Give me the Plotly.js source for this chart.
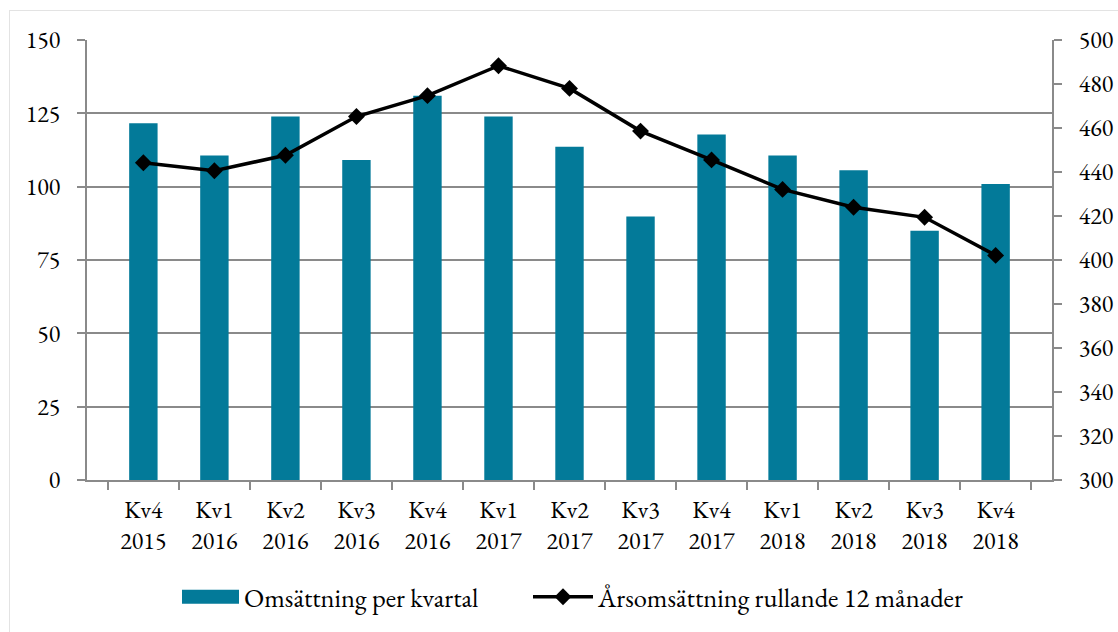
<!DOCTYPE html>
<html>
<head>
<meta charset="utf-8">
<script src="https://cdn.plot.ly/plotly-3.0.1.min.js"></script>
<style>
html,body{margin:0;padding:0;background:#fff;}
#wrap{position:absolute;left:0;top:0;width:1118px;height:632px;overflow:hidden;}
#frame{position:absolute;left:9px;top:10px;width:1200px;height:700px;border:1px solid #e3e3e3;pointer-events:none;}
#chart{position:absolute;left:0;top:0;width:1118px;height:632px;}
</style>
</head>
<body>
<div id="wrap"><div id="chart"></div><div id="frame"></div></div>
<script>
const quarters = ["Kv4<br>2015","Kv1<br>2016","Kv2<br>2016","Kv3<br>2016","Kv4<br>2016","Kv1<br>2017","Kv2<br>2017","Kv3<br>2017","Kv4<br>2017","Kv1<br>2018","Kv2<br>2018","Kv3<br>2018","Kv4<br>2018"];
const quarterlySales = [121.6,110.6,123.9,109.1,131,123.9,113.6,89.8,117.8,110.6,105.6,85,100.9];
const rollingAnnualSales = [444.2,440.6,447.6,465.2,474.7,488.3,478,458.6,445.5,432.1,424,419.4,402.1];
const leftTicks = [0,25,50,75,100,125,150];
const rightTicks = [300,320,340,360,380,400,420,440,460,480,500];

const fontFam = 'EB Garamond';
const gray = '#8a8a8a';
const traces = [
  {
    type:'bar', name:'Omsättning per kvartal', x:quarters, y:quarterlySales,
    marker:{color:'#037a99'}, yaxis:'y', legend:'legend'
  },
  {
    type:'scatter', mode:'lines+markers', name:'Årsomsättning rullande 12 månader',
    x:quarters, y:rollingAnnualSales, yaxis:'y2', legend:'legend2',
    line:{color:'#000000', width:3.5},
    marker:{symbol:'diamond', size:13, color:'#000000'}
  }
];
const legendY = (480-596)/441;
const layout = {
  width:1118, height:632,
  margin:{l:87, r:66, t:40, b:151},
  paper_bgcolor:'#ffffff', plot_bgcolor:'#ffffff',
  font:{family:fontFam, size:24, color:'#000000'},
  bargap:0.6,
  showlegend:true,
  legend:{orientation:'h', x:(174-87)/965, xanchor:'left', y:legendY, yanchor:'middle',
          font:{family:fontFam, size:26.5}, itemwidth:60},
  legend2:{orientation:'h', x:(528-87)/965, xanchor:'left', y:legendY, yanchor:'middle',
          font:{family:fontFam, size:26.5}, itemwidth:60},
  xaxis:{type:'category', tickson:'boundaries', ticks:'outside', ticklen:8, tickcolor:gray, tickwidth:2,
         showline:true, linecolor:gray, linewidth:2, showgrid:false, tickangle:0, ticklabelstandoff:7,
         tickfont:{family:fontFam, size:24}},
  yaxis:{range:[0,150], tickvals:leftTicks, ticks:'outside', ticklen:8, tickcolor:gray, tickwidth:2,
         showline:true, linecolor:gray, linewidth:2, showgrid:true, gridcolor:gray, gridwidth:2,
         zeroline:false, ticklabelstandoff:12, tickfont:{family:fontFam, size:24}},
  yaxis2:{range:[300,500], tickvals:rightTicks, overlaying:'y', side:'right', ticks:'outside', ticklen:8, tickcolor:gray, tickwidth:2,
          showline:true, linecolor:gray, linewidth:2, showgrid:false, zeroline:false, ticklabelstandoff:12,
          tickfont:{family:fontFam, size:24}}
};
Plotly.newPlot('chart', traces, layout, {displayModeBar:false, staticPlot:true}).then(function(gd){
  try {
    const barItem = gd.querySelector('.legend .traces');
    const lineItem = gd.querySelector('.legend2 .traces');
    if (!barItem || !lineItem) return;
    const linePath = lineItem.querySelector('path.js-line');
    const barPath = barItem.querySelector('.legendpoints path');
    if (!linePath || !barPath) return;
    const bb = linePath.getBBox();
    const x0 = bb.x + 3, x1 = bb.x + bb.width;
    barPath.setAttribute('transform', '');
    barPath.setAttribute('d', 'M' + x0 + ',7H' + x1 + 'V-7H' + x0 + 'Z');
  } catch (e) {}
});
</script>
</body>
</html>
